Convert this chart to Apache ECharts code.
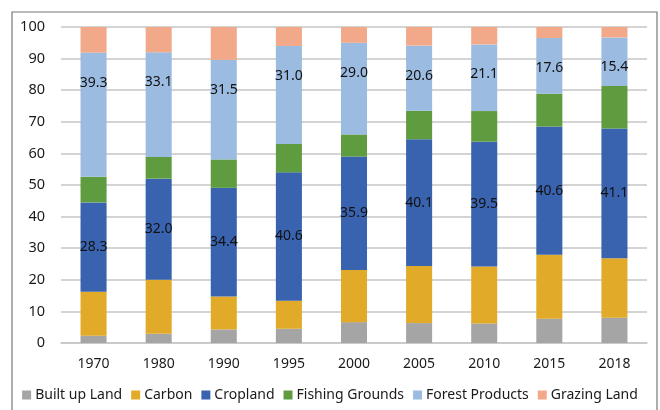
<!DOCTYPE html>
<html><head><meta charset="utf-8">
<script src="https://cdn.jsdelivr.net/npm/echarts@6/dist/echarts.min.js"></script>
<style>html,body{margin:0;padding:0;background:#fff}#c{width:660px;height:410px}</style>
</head><body><div id="c"></div>
<script>
const years = ['1970','1980','1990','1995','2000','2005','2010','2015','2018'];
const builtUpLand    = [2.3, 2.9, 4.3, 4.5, 6.6, 6.3, 6.2, 7.7, 8.0];
const carbon         = [13.9, 17.1, 10.4, 8.9, 16.5, 18.1, 18.0, 20.2, 18.8];
const cropland       = [28.3, 32.0, 34.4, 40.6, 35.9, 40.1, 39.5, 40.6, 41.1];
const fishingGrounds = [8.1, 6.9, 9.0, 9.0, 7.0, 9.0, 9.7, 10.4, 13.4];
const forestProducts = [39.3, 33.1, 31.5, 31.0, 29.0, 20.6, 21.1, 17.6, 15.4];
const grazingLand    = [8.1, 8.0, 10.4, 6.0, 5.0, 5.9, 5.5, 3.5, 3.3];
const yTicks = [0, 10, 20, 30, 40, 50, 60, 70, 80, 90, 100];

const font = 'Noto Sans';
const chart = echarts.init(document.getElementById('c'));
function s(name, data, color, label) {
  const o = { name, type: 'bar', stack: 'total', data, barWidth: '40%',
    itemStyle: { color }, label: { show: false } };
  if (label) o.label = label;
  return o;
}
const lblBase = { show: true, color: '#111', fontFamily: font, fontSize: 14,
  formatter: p => p.value.toFixed(1) };
chart.setOption({
  animation: false,
  textStyle: { fontFamily: font },
  graphic: [{ type: 'rect', shape: { x: 12, y: 12, width: 645, height: 410 },
    style: { fill: 'none', stroke: '#777', lineWidth: 1.2 }, silent: true }],
  grid: { left: 61, right: 13, top: 27, bottom: 67 },
  xAxis: { type: 'category', data: years,
    axisLine: { lineStyle: { color: '#c6c6c6', width: 1.5 } },
    axisTick: { show: false },
    axisLabel: { color: '#1a1a1a', fontSize: 14, fontFamily: font, margin: 14 } },
  yAxis: { type: 'value', min: yTicks[0], max: yTicks[yTicks.length - 1], interval: 10,
    axisLine: { show: false }, axisTick: { show: false },
    splitLine: { lineStyle: { color: '#c6c6c6', width: 1.5 } },
    axisLabel: { color: '#1a1a1a', fontSize: 14.5, fontFamily: font, margin: 16 } },
  legend: { bottom: 3, left: 'center', itemWidth: 9, itemHeight: 9, itemGap: 9,
    icon: 'rect', textStyle: { fontSize: 14, fontFamily: font, color: '#1a1a1a', padding: [0, 0, 0, -1] } },
  series: [
    s('Built up Land', builtUpLand, '#a5a5a5'),
    s('Carbon', carbon, '#e1aa28'),
    s('Cropland', cropland, '#3963ae', Object.assign({ position: 'inside' }, lblBase)),
    s('Fishing Grounds', fishingGrounds, '#5f9c40'),
    s('Forest Products', forestProducts, '#9bbbe0', Object.assign({ position: 'insideTop', distance: 23 }, lblBase)),
    s('Grazing Land', grazingLand, '#f2a98a')
  ]
});
</script></body></html>
